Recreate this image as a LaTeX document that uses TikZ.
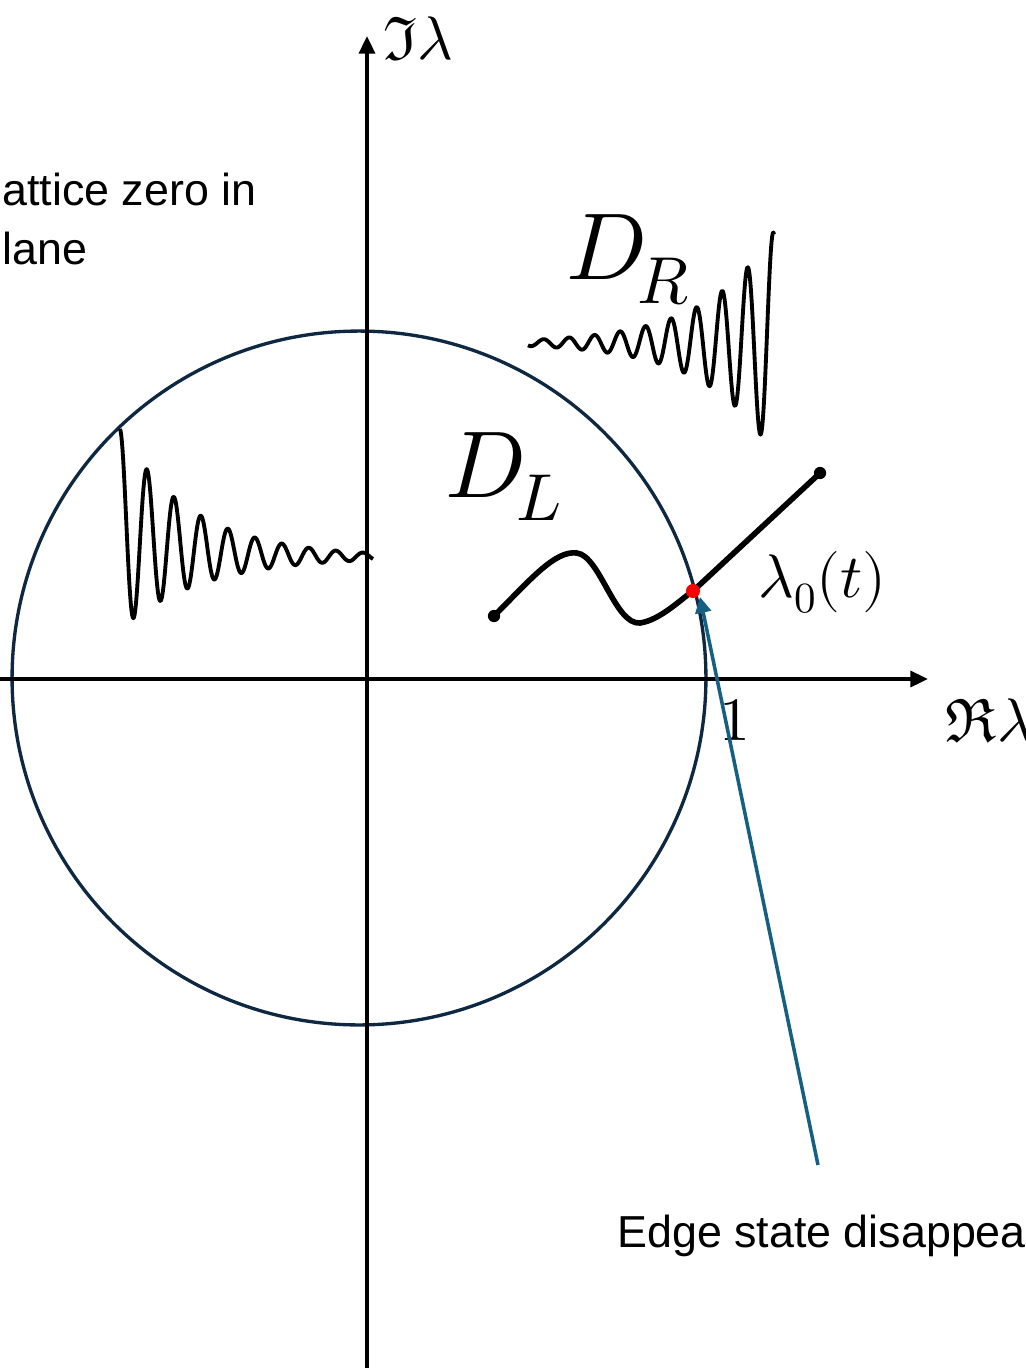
\documentclass[tikz,border=0pt]{standalone}
\usepackage{fontspec}
\usepackage{unicode-math}
\setmathfont{Latin Modern Math}
\newfontfamily\labelfont{Liberation Sans}
\usetikzlibrary{arrows.meta}
\definecolor{PlaneCircle}{HTML}{0E2841}
\definecolor{PlaneArrow}{HTML}{156082}
\definecolor{PlaneCross}{HTML}{FF0000}
\tikzset{
  axisline/.style={line width=2.1pt,-{Triangle[length=10pt,width=9pt]}},
  unitcircle/.style={PlaneCircle,line width=1.9pt},
  wave/.style={line width=2.2pt,line join=round},
  lampath/.style={line width=3.2pt,line join=round},
  enddot/.style={circle,fill=black,inner sep=0pt,minimum size=7pt},
  crossdot/.style={circle,fill=PlaneCross,inner sep=0pt,minimum size=8pt},
  edgearrow/.style={PlaneArrow,line width=2pt,-{Triangle[length=9pt,width=9pt]}},
  textlabel/.style={inner sep=0pt,anchor=base west,font=\labelfont\fontsize{25.5}{34}\selectfont},
  bigmath/.style={inner sep=0pt,anchor=base west,font=\fontsize{54}{60}\selectfont},
  midmath/.style={inner sep=0pt,anchor=base west,font=\fontsize{35}{40}\selectfont}
}
\begin{document}
\begin{tikzpicture}[x=0.02cm,y=-0.02cm]
  \useasboundingbox (0,0) rectangle (1025,1368);
  \clip (0,0) rectangle (1025,1368);
  % unit circle
  \draw[unitcircle] (359,678) circle[radius=6.94cm];
  % axes
  \coordinate (xleft) at (0,679);
  \coordinate (xright) at (928,679);
  \coordinate (ybottom) at (367,1368);
  \coordinate (ytop) at (367,36);
  \draw[axisline] (xleft) -- (xright);
  \draw[axisline] (ybottom) -- (ytop);
  \node[midmath] (imlabel) at (383,60) {$\Im\lambda$};
  \node[midmath] (relabel) at (945,741) {$\Re\lambda$};
  \node[midmath] (onelabel) at (719,740) {$1$};
  % decaying and growing modes
  \draw[wave] plot[domain=120:373,samples=400]
    (\x,{557-28*exp(-(\x-120)/60)-100*exp(-(\x-120)/75)*cos(360/27*(\x-120))});
  \draw[wave] plot[domain=528:774,samples=400]
    (\x,{343-112*exp((\x-774)/68)*cos(360/25.5*(\x-773))});
  \node[bigmath] (dllabel) at (445,497) {$D_{\mkern-2mu L}$};
  \node[bigmath] (drlabel) at (566,280) {$D_{\mkern-2mu R}$};
  % path of the zero
  \coordinate (pstart) at (494,616);
  \coordinate (pcross) at (693,591);
  \coordinate (pend) at (820,473);
  \draw[lampath] (pstart) .. controls (530,580) and (555,550) .. (577,553)
    .. controls (600,556) and (615,625) .. (640,623)
    .. controls (660,620) and (680,600) .. (pcross) -- (pend);
  \node[enddot] (startdot) at (pstart) {};
  \node[enddot] (enddot) at (pend) {};
  \node[midmath] (lamlabel) at (758,597) {$\lambda_0(t)$};
  % edge state annotation
  \coordinate (arrowtail) at (818,1165);
  \coordinate (arrowtip) at (700,597);
  \draw[edgearrow] (arrowtail) -- (arrowtip);
  \node[crossdot] (crosspoint) at (pcross) {};
  \node[textlabel] (edgelabel) at (617,1247) {Edge state disappea};
  \node[textlabel] (zeroline) at (2,206) {attice zero in};
  \node[textlabel] (planeline) at (2,265) {lane};
\end{tikzpicture}
\end{document}
